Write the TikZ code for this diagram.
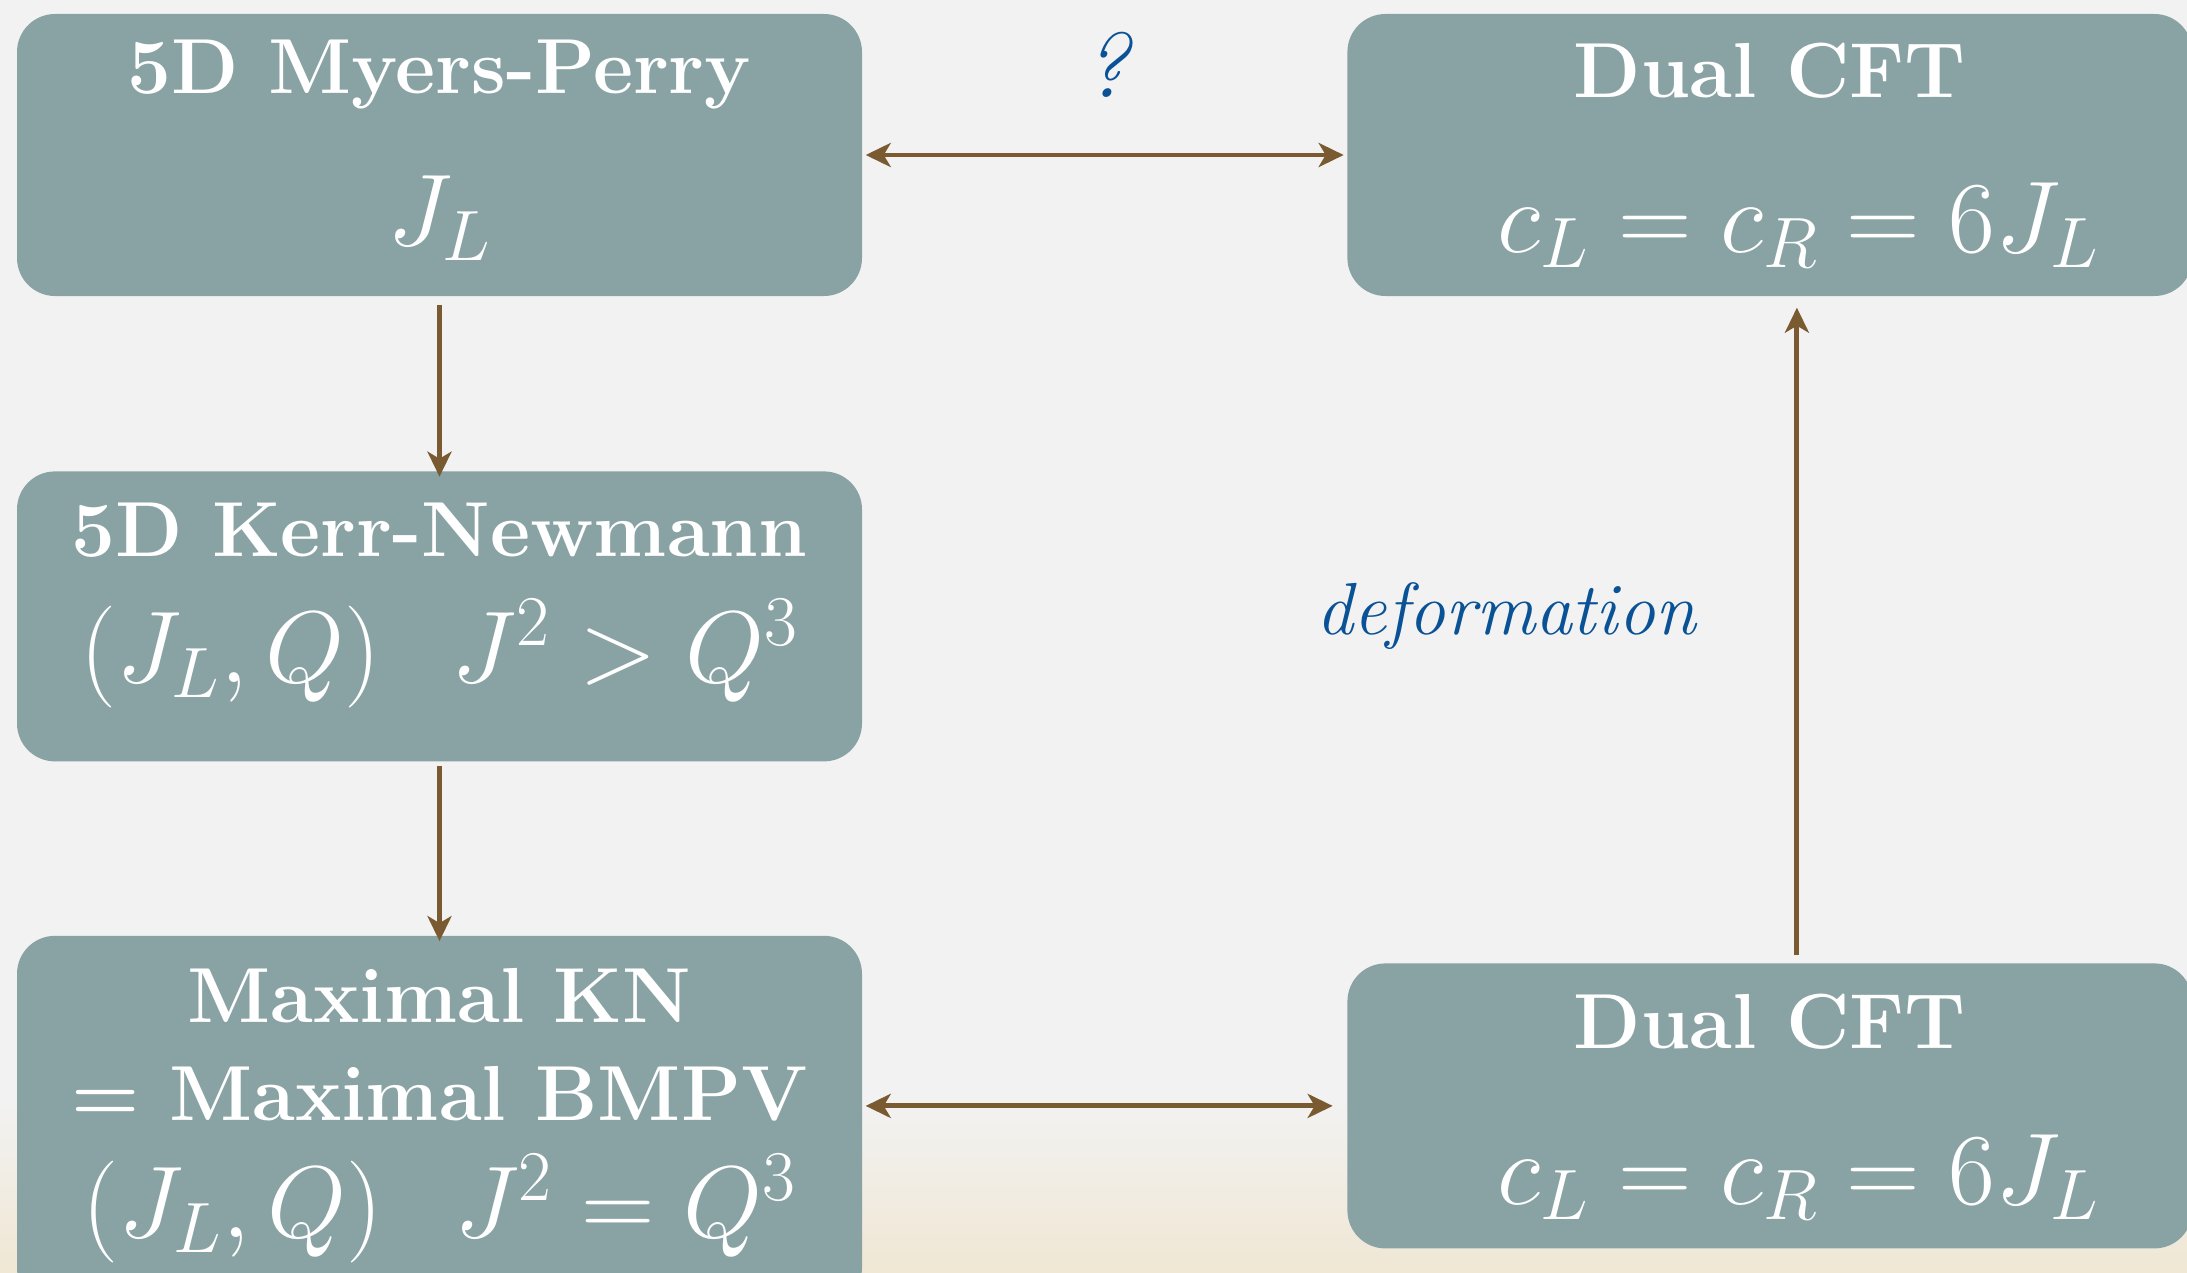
\RequirePackage{fix-cm}
\documentclass[tikz,border=0pt]{standalone}
\usepackage{xcolor}
\usetikzlibrary{positioning,arrows.meta}
\definecolor{boxteal}{RGB}{137,163,165}
\definecolor{arrbrown}{RGB}{122,90,48}
\definecolor{labblue}{RGB}{10,82,150}
\definecolor{paper}{RGB}{242,242,242}
\definecolor{paperwarm}{RGB}{240,231,212}

\begin{document}
\begin{tikzpicture}[
  box/.style={fill=boxteal, rounded corners=0.38cm, minimum width=8.45cm, minimum height=2.85cm, inner sep=0pt},
  ttl/.style={text=white, font=\fontsize{22.2}{28}\selectfont\bfseries, align=center, inner sep=0pt},
  eq/.style={text=white, font=\fontsize{29}{34}\selectfont, inner sep=0pt},
  lbl/.style={text=labblue, font=\fontsize{21}{26}\selectfont\itshape, inner sep=0pt},
  tip/.style={Stealth[length=0.25cm, width=0.24cm, inset=0.07cm]},
  arr/.style={-{Stealth[length=0.25cm, width=0.24cm, inset=0.07cm]}, line width=1.4pt, draw=arrbrown},
  darr/.style={arr, {Stealth[length=0.25cm, width=0.24cm, inset=0.07cm]}-{Stealth[length=0.25cm, width=0.24cm, inset=0.07cm]}},
  node distance=1.74cm]
  \useasboundingbox (0,0) rectangle (21.87,-12.73);
  \fill[paper] (0,0) rectangle (21.87,-12.73);
  \shade[top color=paper, bottom color=paperwarm] (0,-11.0) rectangle (21.87,-12.73);
  % boxes
  \node[box, minimum height=2.82cm] (mp) at (4.395,-1.55) {};
  \node[box, minimum height=2.82cm, right=4.84cm of mp] (cft1) {};
  \node[box, minimum height=2.90cm, below=of mp] (kn) {};
  \node[box, minimum height=3.70cm, below=1.73cm of kn] (max) {};
  \node[box, below=6.66cm of cft1] (cft2) {};
  % box texts
  \node[ttl] (mp-t) at ([yshift=0.80cm]mp.center) {5D Myers-Perry};
  \node[eq] (mp-m) at ([yshift=-0.63cm]mp.center) {$J_L$};
  \node[ttl] (cft1-t) at ([yshift=0.84cm]cft1.center) {Dual CFT};
  \node[eq] (cft1-m) at ([xshift=0.29cm, yshift=-0.70cm]cft1.center) {$c_L=c_R=6J_L$};
  \node[ttl] (kn-t) at ([yshift=0.86cm]kn.center) {5D Kerr-Newmann};
  \node[eq] (kn-m) at ([yshift=-0.37cm]kn.center) {$(J_L,Q)\hspace{0.7em}J^2>Q^3$};
  \node[ttl] (max-t) at ([yshift=0.76cm]max.center) {Maximal KN\\= Maximal BMPV};
  \node[eq] (max-m) at ([yshift=-0.88cm]max.center) {$(J_L,Q)\hspace{0.7em}J^2=Q^3$};
  \node[ttl] (cft2-t) at ([yshift=0.84cm]cft2.center) {Dual CFT};
  \node[eq] (cft2-m) at ([xshift=0.29cm, yshift=-0.71cm]cft2.center) {$c_L=c_R=6J_L$};
  % labels
  \node[lbl, font=\fontsize{26}{30}\selectfont\itshape] (ask) at (11.06,-0.65) {?};
  \node[lbl] (deform) at (15.06,-6.16) {deformation};
  % arrows
  \draw[darr, shorten <=0.03cm, shorten >=0.03cm] (mp) -- (cft1);
  \draw[arr, shorten <=0.08cm, shorten >=-0.06cm] (mp) -- (kn);
  \draw[arr, shorten <=0.04cm, shorten >=-0.06cm] (kn) -- (max);
  \draw[darr, shorten <=0.03cm, shorten >=0.14cm] (max.east |- cft2.west) -- (cft2.west);
  \draw[arr, shorten <=0.08cm, shorten >=0.11cm] ([xshift=0.27cm]cft2.north) -- ([xshift=0.27cm]cft1.south);
\end{tikzpicture}
\end{document}
